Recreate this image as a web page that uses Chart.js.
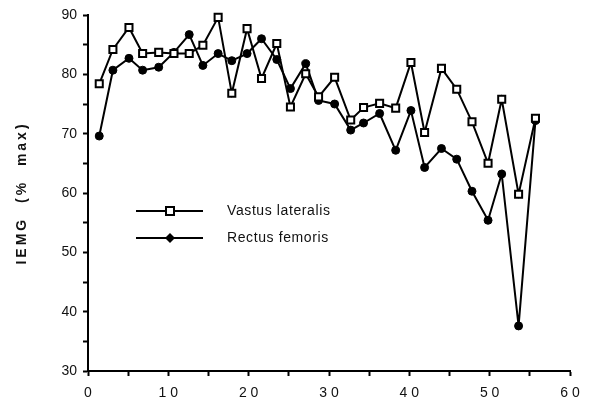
<!DOCTYPE html>
<html>
<head>
<meta charset="utf-8">
<script src="https://cdn.jsdelivr.net/npm/chart.js@4.4.1/dist/chart.umd.min.js"></script>
<style>
  html, body { margin: 0; padding: 0; background: #fff; }
  #wrap { width: 591px; height: 409px; }
</style>
</head>
<body>
<div id="wrap"><canvas id="myChart" width="591" height="409"></canvas></div>
<script>
// time points (x) and IEMG values for the two muscles
const xs = [1.4, 3.1, 5.1, 6.8, 8.8, 10.7, 12.6, 14.3, 16.2, 17.9, 19.8, 21.6, 23.5, 25.2, 27.1,
            28.7, 30.7, 32.7, 34.3, 36.3, 38.3, 40.2, 41.9, 44.0, 45.9, 47.8, 49.8, 51.5, 53.6, 55.7];
const vastus = [78.4, 84.2, 87.9, 83.5, 83.7, 83.5, 83.5, 84.9, 89.6, 76.8, 87.7, 79.3, 85.2, 74.5, 80.1,
                76.2, 79.5, 72.3, 74.4, 75.1, 74.3, 82.0, 70.2, 81.0, 77.5, 72.0, 65.0, 75.8, 59.8, 72.6];
const rectus = [69.6, 80.7, 82.7, 80.7, 81.2, 83.7, 86.7, 81.5, 83.5, 82.3, 83.5, 86.0, 82.5, 77.6, 81.8,
                75.6, 75.0, 70.6, 71.8, 73.4, 67.2, 73.9, 64.3, 67.5, 65.7, 60.3, 55.4, 63.2, 37.6, 72.2];

const seriesNames = ['Vastus lateralis', 'Rectus femoris'];
const yTitle = 'IEMG  (%  max)';

function toPoints(vals) {
  return vals.map(function (v, i) { return { x: xs[i], y: v }; });
}

const FONT = '"Liberation Sans", Arial, sans-serif';

// legend drawn inside the plot, left-middle
const insideLegend = {
  id: 'insideLegend',
  afterDatasetsDraw(chart) {
    const ctx = chart.ctx;
    const rows = [{ y: 211, ds: 0 }, { y: 238, ds: 1 }];
    ctx.save();
    rows.forEach(function (r) {
      const ds = chart.data.datasets[r.ds];
      ctx.strokeStyle = '#000';
      ctx.lineWidth = 2;
      ctx.beginPath();
      ctx.moveTo(136, r.y);
      ctx.lineTo(203, r.y);
      ctx.stroke();
      const cx = 170;
      if (ds.pointStyle === 'rect') {
        ctx.fillStyle = '#fff';
        ctx.fillRect(cx - 4, r.y - 4, 8, 8);
        ctx.strokeRect(cx - 4, r.y - 4, 8, 8);
      } else {
        ctx.fillStyle = '#000';
        ctx.beginPath();
        ctx.moveTo(cx, r.y - 5);
        ctx.lineTo(cx + 5, r.y);
        ctx.lineTo(cx, r.y + 5);
        ctx.lineTo(cx - 5, r.y);
        ctx.closePath();
        ctx.fill();
      }
      ctx.fillStyle = '#111';
      ctx.font = '14px ' + FONT;
      ctx.letterSpacing = '0.6px';
      ctx.textBaseline = 'middle';
      ctx.textAlign = 'left';
      ctx.fillText(ds.label, 227, r.y);
    });
    ctx.restore();
  }
};

// rotated, letter-spaced y axis title
const yTitlePlugin = {
  id: 'yTitlePlugin',
  afterDraw(chart) {
    const ctx = chart.ctx;
    const area = chart.chartArea;
    ctx.save();
    ctx.translate(22, (area.top + area.bottom) / 2);
    ctx.rotate(-Math.PI / 2);
    ctx.fillStyle = '#111';
    ctx.font = 'bold 14px ' + FONT;
    ctx.letterSpacing = '3px';
    ctx.textAlign = 'center';
    ctx.textBaseline = 'middle';
    ctx.fillText(yTitle, 0, 0);
    ctx.restore();
  }
};

const config = {
  type: 'line',
  data: {
    datasets: [
      {
        label: seriesNames[0],
        data: toPoints(vastus),
        borderColor: '#000',
        borderWidth: 2,
        pointStyle: 'rect',
        pointRadius: 5,
        pointBorderWidth: 2,
        pointBackgroundColor: '#fff',
        pointBorderColor: '#000',
        tension: 0,
        clip: false
      },
      {
        label: seriesNames[1],
        data: toPoints(rectus),
        borderColor: '#000',
        borderWidth: 2,
        pointStyle: 'circle',
        pointRadius: 4,
        pointBorderWidth: 1,
        pointBackgroundColor: '#000',
        pointBorderColor: '#000',
        tension: 0,
        clip: false
      }
    ]
  },
  options: {
    responsive: false,
    animation: false,
    layout: { padding: { left: 0, right: 21, top: 15, bottom: 0 } },
    plugins: {
      legend: { display: false },
      tooltip: { enabled: false }
    },
    scales: {
      x: {
        type: 'linear',
        min: 0,
        max: 60,
        afterFit: function (s) { s.height = 38; },
        border: { color: '#000', width: 2 },
        grid: { display: true, drawOnChartArea: false, drawTicks: true, tickLength: 5, color: '#000', tickWidth: 2 },
        ticks: {
          stepSize: 5,
          autoSkip: false,
          maxRotation: 0,
          padding: 9,
          color: '#111',
          font: { family: FONT, size: 14 },
          callback: function (v) { return v % 10 === 0 ? String(v).split('').join(' ') : ''; }
        }
      },
      y: {
        min: 30,
        max: 90,
        afterFit: function (s) { s.width = 88; },
        border: { color: '#000', width: 2 },
        grid: { display: true, drawOnChartArea: false, drawTicks: true, tickLength: 5, color: '#000', tickWidth: 2 },
        ticks: {
          stepSize: 5,
          autoSkip: false,
          padding: 6,
          color: '#111',
          font: { family: FONT, size: 14 },
          callback: function (v) { return v % 10 === 0 ? String(v) : ''; }
        }
      }
    }
  },
  plugins: [insideLegend, yTitlePlugin]
};

var myChart = new Chart(document.getElementById('myChart'), config);
</script>
</body>
</html>
